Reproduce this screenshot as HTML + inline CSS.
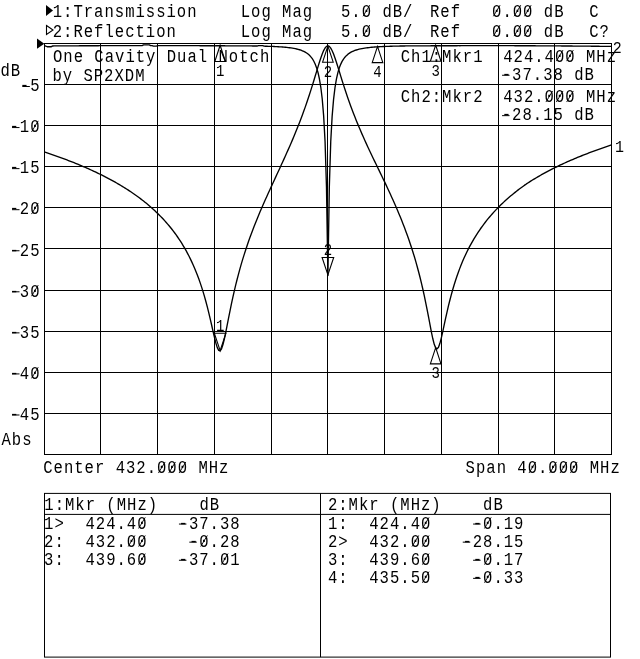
<!DOCTYPE html>
<html><head><meta charset="utf-8"><title>One Cavity Dual Notch</title>
<style>
html,body{margin:0;padding:0;background:#fff;}
svg{display:block;filter:grayscale(1);}
.t{font-family:"Liberation Mono",monospace;fill:#000;white-space:pre;}
.grid line,.grid rect{stroke:#000;stroke-width:1;}
.tr{fill:none;stroke:#000;stroke-width:1.35;stroke-linejoin:round;}
.ln{fill:none;stroke:#000;stroke-width:1.1;stroke-linejoin:miter;}
.fill{fill:#000;stroke:none;}
.sl{stroke:#000;stroke-width:0.9;}
.hy{stroke:#000;stroke-width:1.0;}
</style></head><body>
<svg width="640" height="659" viewBox="0 0 640 659">
<rect width="640" height="659" fill="#fff"/>
<g class="grid"><line x1="44.5" y1="43" x2="44.5" y2="455"/><line x1="100.5" y1="43" x2="100.5" y2="455"/><line x1="157.5" y1="43" x2="157.5" y2="455"/><line x1="214.5" y1="43" x2="214.5" y2="455"/><line x1="271.5" y1="43" x2="271.5" y2="455"/><line x1="327.5" y1="43" x2="327.5" y2="455"/><line x1="384.5" y1="43" x2="384.5" y2="455"/><line x1="441.5" y1="43" x2="441.5" y2="455"/><line x1="498.5" y1="43" x2="498.5" y2="455"/><line x1="554.5" y1="43" x2="554.5" y2="455"/><line x1="611.5" y1="43" x2="611.5" y2="455"/><line x1="44" y1="43.5" x2="612" y2="43.5"/><line x1="44" y1="84.5" x2="612" y2="84.5"/><line x1="44" y1="125.5" x2="612" y2="125.5"/><line x1="44" y1="166.5" x2="612" y2="166.5"/><line x1="44" y1="207.5" x2="612" y2="207.5"/><line x1="44" y1="248.5" x2="612" y2="248.5"/><line x1="44" y1="290.5" x2="612" y2="290.5"/><line x1="44" y1="331.5" x2="612" y2="331.5"/><line x1="44" y1="372.5" x2="612" y2="372.5"/><line x1="44" y1="413.5" x2="612" y2="413.5"/><line x1="44" y1="454.5" x2="612" y2="454.5"/></g>
<polyline class="tr" points="44.30,151.93 45.72,152.40 47.14,152.87 48.55,153.35 49.97,153.83 51.39,154.32 52.81,154.81 54.23,155.31 55.64,155.81 57.06,156.31 58.48,156.82 59.90,157.33 61.32,157.85 62.73,158.37 64.15,158.90 65.57,159.44 66.99,159.97 68.41,160.52 69.82,161.07 71.24,161.62 72.66,162.18 74.08,162.74 75.50,163.31 76.91,163.89 78.33,164.47 79.75,165.06 81.17,165.66 82.59,166.26 84.00,166.86 85.42,167.48 86.84,168.10 88.26,168.73 89.68,169.36 91.09,170.00 92.51,170.65 93.93,171.31 95.35,171.97 96.77,172.64 98.18,173.32 99.60,174.01 101.02,174.71 102.44,175.41 103.86,176.13 105.27,176.85 106.69,177.59 108.11,178.33 109.53,179.08 110.95,179.84 112.36,180.61 113.78,181.40 115.20,182.19 116.62,183.00 118.04,183.81 119.45,184.64 120.87,185.48 122.29,186.34 123.71,187.21 125.13,188.09 126.54,188.98 127.96,189.89 129.38,190.81 130.80,191.76 132.22,192.72 133.63,193.70 135.05,194.70 136.47,195.71 137.89,196.75 139.31,197.80 140.72,198.87 142.14,199.96 143.56,201.07 144.98,202.20 146.40,203.35 147.81,204.53 149.23,205.73 150.65,206.96 152.07,208.21 153.49,209.49 154.90,210.80 156.32,212.14 157.74,213.51 159.16,214.91 160.58,216.35 161.99,217.82 163.41,219.33 164.83,220.88 166.25,222.47 167.67,224.10 169.08,225.78 170.50,227.51 171.92,229.29 173.34,231.13 174.76,233.02 176.17,234.97 177.59,236.99 179.01,239.07 180.43,241.23 181.85,243.47 183.26,245.79 184.68,248.20 186.10,250.70 187.52,253.31 188.94,256.04 190.35,258.88 191.77,261.85 193.19,264.96 194.61,268.23 196.03,271.66 197.44,275.27 198.86,279.09 200.28,283.11 201.70,287.37 203.12,291.89 204.53,296.68 205.95,301.76 207.37,307.15 208.79,312.84 210.21,318.81 211.62,325.01 213.04,331.31 214.46,337.46 215.88,343.08 217.30,347.61 218.71,350.39 220.13,350.87 221.55,348.82 222.97,344.58 224.39,338.77 225.80,332.03 227.22,324.87 228.64,317.64 230.06,310.55 231.48,303.69 232.89,297.13 234.31,290.87 235.73,284.90 237.15,279.22 238.57,273.80 239.98,268.62 241.40,263.66 242.82,258.90 244.24,254.33 245.66,249.92 247.07,245.67 248.49,241.55 249.91,237.56 251.33,233.69 252.75,229.92 254.16,226.24 255.58,222.65 257.00,219.14 258.42,215.69 259.84,212.31 261.25,208.99 262.67,205.72 264.09,202.50 265.51,199.31 266.93,196.16 268.34,193.05 269.76,189.95 271.18,186.88 272.60,183.78 274.02,180.70 275.43,177.63 276.85,174.55 278.27,171.48 279.69,168.41 281.11,165.33 282.52,162.23 283.94,159.12 285.36,155.99 286.78,152.83 288.20,149.65 289.61,146.42 291.03,143.16 292.45,139.86 293.87,136.50 295.29,133.09 296.70,129.61 298.12,126.07 299.54,122.45 300.96,118.75 302.38,114.97 303.79,111.09 305.21,107.11 306.63,103.02 308.05,98.83 309.47,94.53 310.88,90.11 312.30,85.59 313.72,80.98 315.14,76.30 316.56,71.59 317.97,66.90 319.39,62.32 320.81,57.97 322.23,54.00 323.65,50.60 325.06,47.98 326.48,46.33 327.90,45.78 329.32,46.38 330.74,48.08 332.15,50.71 333.57,54.09 334.99,58.01 336.41,62.27 337.83,66.75 339.24,71.32 340.66,75.90 342.08,80.44 343.50,84.90 344.92,89.27 346.33,93.54 347.75,97.69 349.17,101.73 350.59,105.66 352.01,109.49 353.42,113.22 354.84,116.85 356.26,120.40 357.68,123.87 359.10,127.27 360.51,130.59 361.93,133.86 363.35,137.07 364.77,140.23 366.19,143.35 367.60,146.43 369.02,149.47 370.44,152.48 371.86,155.47 373.28,158.43 374.69,161.38 376.11,164.32 377.53,167.25 378.95,170.17 380.37,173.09 381.78,176.02 383.20,178.96 384.62,181.90 386.04,184.91 387.46,187.93 388.87,190.98 390.29,194.06 391.71,197.17 393.13,200.32 394.55,203.51 395.96,206.76 397.38,210.05 398.80,213.42 400.22,216.84 401.64,220.35 403.05,223.93 404.47,227.61 405.89,231.39 407.31,235.28 408.73,239.29 410.14,243.44 411.56,247.73 412.98,252.19 414.40,256.82 415.82,261.65 417.23,266.70 418.65,271.99 420.07,277.54 421.49,283.37 422.91,289.51 424.32,295.97 425.74,302.77 427.16,309.87 428.58,317.22 430.00,324.70 431.41,332.02 432.83,338.78 434.25,344.32 435.67,347.91 437.09,348.90 438.50,347.23 439.92,343.30 441.34,337.84 442.76,331.56 444.18,324.96 445.59,318.39 447.01,312.03 448.43,305.97 449.85,300.23 451.27,294.83 452.68,289.74 454.10,284.96 455.52,280.45 456.94,276.20 458.36,272.19 459.77,268.38 461.19,264.78 462.61,261.35 464.03,258.09 465.45,254.98 466.86,252.00 468.28,249.16 469.70,246.43 471.12,243.82 472.54,241.30 473.95,238.88 475.37,236.55 476.79,234.30 478.21,232.12 479.63,230.02 481.04,227.99 482.46,226.02 483.88,224.11 485.30,222.25 486.72,220.45 488.13,218.70 489.55,217.00 490.97,215.34 492.39,213.73 493.81,212.15 495.22,210.62 496.64,209.12 498.06,207.66 499.48,206.23 500.90,204.83 502.31,203.47 503.73,202.13 505.15,200.82 506.57,199.54 507.99,198.29 509.40,197.06 510.82,195.85 512.24,194.67 513.66,193.51 515.08,192.37 516.49,191.25 517.91,190.15 519.33,189.06 520.75,188.00 522.17,186.96 523.58,185.93 525.00,184.92 526.42,183.93 527.84,182.99 529.26,182.08 530.67,181.18 532.09,180.29 533.51,179.42 534.93,178.56 536.35,177.71 537.76,176.88 539.18,176.06 540.60,175.25 542.02,174.45 543.44,173.66 544.85,172.88 546.27,172.12 547.69,171.36 549.11,170.62 550.53,169.88 551.94,169.15 553.36,168.44 554.78,167.73 556.20,167.03 557.62,166.34 559.03,165.66 560.45,164.98 561.87,164.32 563.29,163.66 564.71,163.01 566.12,162.37 567.54,161.73 568.96,161.10 570.38,160.48 571.80,159.87 573.21,159.26 574.63,158.66 576.05,158.06 577.47,157.48 578.89,156.89 580.30,156.32 581.72,155.75 583.14,155.18 584.56,154.62 585.98,154.07 587.39,153.52 588.81,152.98 590.23,152.44 591.65,151.91 593.07,151.39 594.48,150.86 595.90,150.35 597.32,149.83 598.74,149.33 600.16,148.82 601.57,148.33 602.99,147.83 604.41,147.34 605.83,146.86 607.25,146.38 608.66,145.90 610.08,145.43 611.50,144.96"/>
<polyline class="tr" points="44.30,46.02 45.72,46.01 47.14,46.74 48.55,46.73 49.97,46.72 51.39,46.71 52.81,45.96 54.23,45.95 55.64,45.94 57.06,45.93 58.48,45.92 59.90,45.91 61.32,45.90 62.73,45.89 64.15,45.88 65.57,45.87 66.99,45.87 68.41,45.86 69.82,45.85 71.24,45.84 72.66,45.83 74.08,45.82 75.50,45.82 76.91,45.81 78.33,45.80 79.75,45.79 81.17,45.78 82.59,45.78 84.00,45.77 85.42,45.76 86.84,45.76 88.26,45.75 89.68,45.74 91.09,45.74 92.51,45.73 93.93,45.72 95.35,45.72 96.77,45.71 98.18,45.71 99.60,45.70 101.02,45.69 102.44,45.69 103.86,45.68 105.27,45.68 106.69,45.67 108.11,45.67 109.53,45.66 110.95,45.66 112.36,45.65 113.78,45.65 115.20,45.65 116.62,45.64 118.04,45.64 119.45,45.64 120.87,45.63 122.29,45.63 123.71,45.62 125.13,45.62 126.54,45.62 127.96,45.62 129.38,45.61 130.80,45.61 132.22,45.61 133.63,45.61 135.05,45.60 136.47,45.60 137.89,45.60 139.31,45.60 140.72,45.60 142.14,45.60 143.56,44.86 144.98,44.85 146.40,44.85 147.81,44.85 149.23,44.85 150.65,45.59 152.07,45.59 153.49,46.08 154.90,46.08 156.32,46.08 157.74,45.59 159.16,45.59 160.58,45.59 161.99,45.60 163.41,45.60 164.83,45.60 166.25,45.60 167.67,45.60 169.08,45.60 170.50,45.61 171.92,45.61 173.34,45.61 174.76,45.61 176.17,45.62 177.59,45.62 179.01,45.62 180.43,45.63 181.85,45.63 183.26,45.64 184.68,45.64 186.10,45.65 187.52,45.65 188.94,45.66 190.35,45.66 191.77,45.67 193.19,45.67 194.61,45.68 196.03,45.69 197.44,45.69 198.86,45.70 200.28,45.71 201.70,45.71 203.12,45.72 204.53,45.73 205.95,45.74 207.37,45.75 208.79,45.76 210.21,45.77 211.62,45.78 213.04,45.79 214.46,45.80 215.88,45.79 217.30,45.79 218.71,45.79 220.13,45.79 221.55,45.79 222.97,45.79 224.39,45.79 225.80,45.80 227.22,45.80 228.64,45.80 230.06,45.80 231.48,45.81 232.89,45.81 234.31,45.82 235.73,45.82 237.15,45.83 238.57,45.84 239.98,45.85 241.40,45.86 242.82,45.87 244.24,45.88 245.66,45.89 247.07,45.90 248.49,45.92 249.91,45.93 251.33,45.95 252.75,45.97 254.16,45.99 255.58,46.01 257.00,46.03 258.42,45.56 259.84,45.59 261.25,45.62 262.67,45.65 264.09,46.18 265.51,46.22 266.93,46.26 268.34,46.30 269.76,46.35 271.18,46.40 272.60,46.45 274.02,46.52 275.43,46.58 276.85,46.66 278.27,46.74 279.69,46.82 281.11,46.92 282.52,47.02 283.94,47.14 285.36,47.27 286.78,47.41 288.20,47.57 289.61,47.74 291.03,47.94 292.45,48.15 293.87,48.40 295.29,48.68 296.70,48.99 298.12,49.35 299.54,49.75 300.96,50.22 302.38,50.77 303.79,51.40 305.21,52.14 306.63,53.02 308.05,54.06 309.47,55.31 310.88,56.84 312.30,58.70 313.72,61.02 315.14,63.93 316.56,67.64 317.97,72.44 319.39,78.77 320.81,87.28 322.23,99.02 323.65,115.84 325.06,141.58 326.48,187.01 327.90,275.48 329.32,187.11 330.74,141.78 332.15,116.12 333.57,99.36 334.99,87.66 336.41,79.17 337.83,72.85 339.24,68.05 340.66,64.33 342.08,61.41 343.50,59.08 344.92,57.19 346.33,55.66 347.75,54.39 349.17,53.33 350.59,52.43 352.01,51.68 353.42,51.03 354.84,50.47 356.26,49.99 357.68,49.57 359.10,49.20 360.51,48.88 361.93,48.59 363.35,48.34 364.77,48.11 366.19,47.90 367.60,47.72 369.02,47.56 370.44,47.41 371.86,47.27 373.28,47.15 374.69,47.04 376.11,46.94 377.53,46.84 378.95,46.76 380.37,46.68 381.78,46.60 383.20,46.54 384.62,46.48 386.04,46.42 387.46,46.37 388.87,46.32 390.29,46.27 391.71,46.23 393.13,46.19 394.55,46.16 395.96,46.12 397.38,46.09 398.80,46.06 400.22,46.04 401.64,46.01 403.05,45.99 404.47,45.97 405.89,45.95 407.31,45.93 408.73,45.92 410.14,45.90 411.56,45.89 412.98,45.88 414.40,45.86 415.82,45.85 417.23,45.84 418.65,45.84 420.07,45.83 421.49,45.82 422.91,45.82 424.32,45.81 425.74,45.81 427.16,45.80 428.58,45.80 430.00,45.80 431.41,45.79 432.83,45.79 434.25,45.79 435.67,45.79 437.09,45.79 438.50,45.79 439.92,45.79 441.34,45.80 442.76,45.79 444.18,45.78 445.59,45.77 447.01,45.76 448.43,45.75 449.85,45.74 451.27,45.73 452.68,45.73 454.10,45.72 455.52,45.71 456.94,45.71 458.36,45.70 459.77,45.70 461.19,45.69 462.61,45.69 464.03,45.68 465.45,45.68 466.86,45.67 468.28,45.67 469.70,45.67 471.12,45.66 472.54,45.66 473.95,45.66 475.37,45.65 476.79,45.65 478.21,45.65 479.63,45.65 481.04,45.65 482.46,45.65 483.88,45.65 485.30,45.65 486.72,45.65 488.13,45.65 489.55,45.65 490.97,45.65 492.39,45.65 493.81,45.65 495.22,45.65 496.64,45.65 498.06,45.66 499.48,45.66 500.90,45.66 502.31,45.66 503.73,45.67 505.15,45.67 506.57,45.67 507.99,45.68 509.40,45.68 510.82,45.69 512.24,45.69 513.66,45.70 515.08,45.70 516.49,45.71 517.91,45.71 519.33,45.72 520.75,45.72 522.17,45.73 523.58,45.74 525.00,45.74 526.42,45.75 527.84,45.76 529.26,45.76 530.67,45.77 532.09,45.78 533.51,45.78 534.93,45.79 536.35,45.80 537.76,45.80 539.18,45.81 540.60,45.82 542.02,45.83 543.44,45.84 544.85,45.84 546.27,45.85 547.69,45.86 549.11,45.87 550.53,45.88 551.94,45.89 553.36,45.90 554.78,45.91 556.20,45.92 557.62,45.93 559.03,45.94 560.45,45.95 561.87,45.96 563.29,45.97 564.71,45.98 566.12,45.99 567.54,46.00 568.96,46.01 570.38,46.02 571.80,46.04 573.21,46.05 574.63,46.06 576.05,46.07 577.47,46.08 578.89,46.10 580.30,46.11 581.72,46.12 583.14,46.14 584.56,46.15 585.98,46.16 587.39,46.18 588.81,46.19 590.23,46.20 591.65,46.22 593.07,46.23 594.48,46.24 595.90,46.26 597.32,46.27 598.74,46.29 600.16,46.30 601.57,46.32 602.99,46.33 604.41,46.35 605.83,46.36 607.25,46.38 608.66,46.40 610.08,46.41 611.50,46.43"/>
<text class="t" transform="translate(52.72 16.60) scale(1 1.148)" font-size="15.6" letter-spacing="0.990" xml:space="preserve">1:Transmission</text>
<text class="t" transform="translate(240.71 16.60) scale(1 1.148)" font-size="15.6" letter-spacing="0.990" xml:space="preserve">Log Mag</text>
<line class="sl" x1="363.06" y1="16.24" x2="369.77" y2="5.14"/>
<text class="t" transform="translate(341.03 16.60) scale(1 1.148)" font-size="15.6" letter-spacing="0.990" xml:space="preserve">5.0 dB/</text>
<text class="t" transform="translate(430.02 16.60) scale(1 1.148)" font-size="15.6" letter-spacing="0.990" xml:space="preserve">Ref</text>
<line class="sl" x1="493.39" y1="16.24" x2="500.10" y2="5.14"/>
<line class="sl" x1="514.09" y1="16.24" x2="520.80" y2="5.14"/>
<line class="sl" x1="524.44" y1="16.24" x2="531.15" y2="5.14"/>
<text class="t" transform="translate(492.06 16.60) scale(1 1.148)" font-size="15.6" letter-spacing="0.990" xml:space="preserve">0.00 dB</text>
<text class="t" transform="translate(589.14 16.60) scale(1 1.148)" font-size="15.6" letter-spacing="0.990" xml:space="preserve">C</text>
<text class="t" transform="translate(52.72 36.50) scale(1 1.148)" font-size="15.6" letter-spacing="0.990" xml:space="preserve">2:Reflection</text>
<text class="t" transform="translate(240.71 36.50) scale(1 1.148)" font-size="15.6" letter-spacing="0.990" xml:space="preserve">Log Mag</text>
<line class="sl" x1="363.06" y1="36.14" x2="369.77" y2="25.04"/>
<text class="t" transform="translate(341.03 36.50) scale(1 1.148)" font-size="15.6" letter-spacing="0.990" xml:space="preserve">5.0 dB/</text>
<text class="t" transform="translate(430.02 36.50) scale(1 1.148)" font-size="15.6" letter-spacing="0.990" xml:space="preserve">Ref</text>
<line class="sl" x1="493.39" y1="36.14" x2="500.10" y2="25.04"/>
<line class="sl" x1="514.09" y1="36.14" x2="520.80" y2="25.04"/>
<line class="sl" x1="524.44" y1="36.14" x2="531.15" y2="25.04"/>
<text class="t" transform="translate(492.06 36.50) scale(1 1.148)" font-size="15.6" letter-spacing="0.990" xml:space="preserve">0.00 dB</text>
<text class="t" transform="translate(589.14 36.50) scale(1 1.148)" font-size="15.6" letter-spacing="0.990" xml:space="preserve">C?</text>
<path class="fill" d="M46 5 L53 10.5 L46 16 Z"/>
<path class="ln" d="M46.5 25.5 L53 30 L46.5 34.5 Z"/>
<path class="fill" d="M37 38.6 L44.3 43.7 L37 48.8 Z"/>
<line class="hy" x1="22.35" y1="86.51" x2="29.85" y2="86.51"/>
<text class="t" transform="translate(19.85 91.26) scale(1 1.148)" font-size="15.6" letter-spacing="0.990" xml:space="preserve">-5</text>
<line class="hy" x1="12.00" y1="127.57" x2="19.50" y2="127.57"/>
<line class="sl" x1="31.53" y1="131.96" x2="38.23" y2="120.86"/>
<text class="t" transform="translate(9.50 132.32) scale(1 1.148)" font-size="15.6" letter-spacing="0.990" xml:space="preserve">-10</text>
<line class="hy" x1="12.00" y1="168.63" x2="19.50" y2="168.63"/>
<text class="t" transform="translate(9.50 173.38) scale(1 1.148)" font-size="15.6" letter-spacing="0.990" xml:space="preserve">-15</text>
<line class="hy" x1="12.00" y1="209.69" x2="19.50" y2="209.69"/>
<line class="sl" x1="31.53" y1="214.08" x2="38.23" y2="202.98"/>
<text class="t" transform="translate(9.50 214.44) scale(1 1.148)" font-size="15.6" letter-spacing="0.990" xml:space="preserve">-20</text>
<line class="hy" x1="12.00" y1="250.75" x2="19.50" y2="250.75"/>
<text class="t" transform="translate(9.50 255.50) scale(1 1.148)" font-size="15.6" letter-spacing="0.990" xml:space="preserve">-25</text>
<line class="hy" x1="12.00" y1="291.81" x2="19.50" y2="291.81"/>
<line class="sl" x1="31.53" y1="296.20" x2="38.23" y2="285.10"/>
<text class="t" transform="translate(9.50 296.56) scale(1 1.148)" font-size="15.6" letter-spacing="0.990" xml:space="preserve">-30</text>
<line class="hy" x1="12.00" y1="332.87" x2="19.50" y2="332.87"/>
<text class="t" transform="translate(9.50 337.62) scale(1 1.148)" font-size="15.6" letter-spacing="0.990" xml:space="preserve">-35</text>
<line class="hy" x1="12.00" y1="373.93" x2="19.50" y2="373.93"/>
<line class="sl" x1="31.53" y1="378.32" x2="38.23" y2="367.22"/>
<text class="t" transform="translate(9.50 378.68) scale(1 1.148)" font-size="15.6" letter-spacing="0.990" xml:space="preserve">-40</text>
<line class="hy" x1="12.00" y1="414.99" x2="19.50" y2="414.99"/>
<text class="t" transform="translate(9.50 419.74) scale(1 1.148)" font-size="15.6" letter-spacing="0.990" xml:space="preserve">-45</text>
<text class="t" transform="translate(0.45 76.00) scale(1 1.148)" font-size="15.6" letter-spacing="0.990" xml:space="preserve">dB</text>
<text class="t" transform="translate(1.50 445.30) scale(1 1.148)" font-size="15.6" letter-spacing="0.990" xml:space="preserve">Abs</text>
<line class="sl" x1="158.42" y1="473.04" x2="165.13" y2="461.94"/>
<line class="sl" x1="168.77" y1="473.04" x2="175.48" y2="461.94"/>
<line class="sl" x1="179.12" y1="473.04" x2="185.83" y2="461.94"/>
<text class="t" transform="translate(43.24 473.40) scale(1 1.148)" font-size="15.6" letter-spacing="0.990" xml:space="preserve">Center 432.000 MHz</text>
<line class="sl" x1="529.03" y1="473.04" x2="535.74" y2="461.94"/>
<line class="sl" x1="549.73" y1="473.04" x2="556.44" y2="461.94"/>
<line class="sl" x1="560.08" y1="473.04" x2="566.79" y2="461.94"/>
<line class="sl" x1="570.43" y1="473.04" x2="577.14" y2="461.94"/>
<text class="t" transform="translate(465.61 473.40) scale(1 1.148)" font-size="15.6" letter-spacing="0.990" xml:space="preserve">Span 40.000 MHz</text>
<text class="t" transform="translate(52.99 62.00) scale(1 1.148)" font-size="15.6" letter-spacing="0.990" xml:space="preserve">One Cavity Dual Notch</text>
<text class="t" transform="translate(52.39 80.50) scale(1 1.148)" font-size="15.6" letter-spacing="0.990" xml:space="preserve">by SP2XDM</text>
<text class="t" transform="translate(400.74 61.50) scale(1 1.148)" font-size="15.6" letter-spacing="0.990" xml:space="preserve">Ch1:Mkr1</text>
<line class="sl" x1="556.30" y1="61.14" x2="563.00" y2="50.04"/>
<line class="sl" x1="566.65" y1="61.14" x2="573.35" y2="50.04"/>
<text class="t" transform="translate(503.22 61.50) scale(1 1.148)" font-size="15.6" letter-spacing="0.990" xml:space="preserve">424.400 MHz</text>
<line class="hy" x1="502.06" y1="75.25" x2="509.56" y2="75.25"/>
<text class="t" transform="translate(501.76 80.00) scale(1 1.148)" font-size="15.6" letter-spacing="0.990" xml:space="preserve">-37.38 dB</text>
<text class="t" transform="translate(400.74 102.40) scale(1 1.148)" font-size="15.6" letter-spacing="0.990" xml:space="preserve">Ch2:Mkr2</text>
<line class="sl" x1="545.95" y1="102.04" x2="552.65" y2="90.94"/>
<line class="sl" x1="556.30" y1="102.04" x2="563.00" y2="90.94"/>
<line class="sl" x1="566.65" y1="102.04" x2="573.35" y2="90.94"/>
<text class="t" transform="translate(503.22 102.40) scale(1 1.148)" font-size="15.6" letter-spacing="0.990" xml:space="preserve">432.000 MHz</text>
<line class="hy" x1="502.06" y1="115.65" x2="509.56" y2="115.65"/>
<text class="t" transform="translate(501.76 120.40) scale(1 1.148)" font-size="15.6" letter-spacing="0.990" xml:space="preserve">-28.15 dB</text>
<text class="t" transform="translate(614.92 151.90) scale(1 1.1)" font-size="15.0">1</text>
<text class="t" transform="translate(612.75 53.20) scale(1 1.1)" font-size="15.0">2</text>
<path class="ln" d="M220.13 350.66 L214.33 333.26 L225.93 333.26 Z"/>
<text class="t" transform="translate(220.13 330.96) scale(1 1.2)" font-size="14.0" text-anchor="middle">1</text>
<path class="ln" d="M327.90 46.00 L322.60 62.20 L333.20 62.20 Z"/>
<text class="t" transform="translate(327.90 76.80) scale(1 1.2)" font-size="14.0" text-anchor="middle">2</text>
<path class="ln" d="M435.67 347.63 L430.37 363.83 L440.97 363.83 Z"/>
<text class="t" transform="translate(435.67 378.43) scale(1 1.2)" font-size="14.0" text-anchor="middle">3</text>
<path class="ln" d="M220.13 45.26 L214.83 61.46 L225.43 61.46 Z"/>
<text class="t" transform="translate(220.13 76.06) scale(1 1.2)" font-size="14.0" text-anchor="middle">1</text>
<path class="ln" d="M327.90 274.87 L322.10 257.47 L333.70 257.47 Z"/>
<text class="t" transform="translate(327.90 255.17) scale(1 1.2)" font-size="14.0" text-anchor="middle">2</text>
<path class="ln" d="M435.67 45.10 L430.37 61.30 L440.97 61.30 Z"/>
<text class="t" transform="translate(435.67 75.90) scale(1 1.2)" font-size="14.0" text-anchor="middle">3</text>
<path class="ln" d="M377.53 46.41 L372.23 62.61 L382.83 62.61 Z"/>
<text class="t" transform="translate(377.53 77.21) scale(1 1.2)" font-size="14.0" text-anchor="middle">4</text>
<g class="grid"><rect x="44.5" y="493.4" width="566" height="163.7" fill="none"/><line x1="320.5" y1="493.4" x2="320.5" y2="657.1"/><line x1="44.5" y1="514.4" x2="610.5" y2="514.4"/></g>
<text class="t" transform="translate(44.30 509.50) scale(1 1.148)" font-size="15.6" letter-spacing="0.990" xml:space="preserve">1:Mkr (MHz)    dB</text>
<text class="t" transform="translate(327.90 509.50) scale(1 1.148)" font-size="15.6" letter-spacing="0.990" xml:space="preserve">2:Mkr (MHz)    dB</text>
<line class="sl" x1="138.58" y1="528.44" x2="145.28" y2="517.34"/>
<line class="hy" x1="178.95" y1="524.05" x2="186.45" y2="524.05"/>
<text class="t" transform="translate(44.10 528.80) scale(1 1.148)" font-size="15.6" letter-spacing="0.990" xml:space="preserve">1&gt;  424.40   -37.38</text>
<line class="sl" x1="128.23" y1="546.54" x2="134.93" y2="535.44"/>
<line class="sl" x1="138.58" y1="546.54" x2="145.28" y2="535.44"/>
<line class="hy" x1="189.30" y1="542.15" x2="196.80" y2="542.15"/>
<line class="sl" x1="200.68" y1="546.54" x2="207.38" y2="535.44"/>
<text class="t" transform="translate(44.10 546.90) scale(1 1.148)" font-size="15.6" letter-spacing="0.990" xml:space="preserve">2:  432.00    -0.28</text>
<line class="sl" x1="138.58" y1="564.64" x2="145.28" y2="553.54"/>
<line class="hy" x1="178.95" y1="560.25" x2="186.45" y2="560.25"/>
<line class="sl" x1="221.38" y1="564.64" x2="228.08" y2="553.54"/>
<text class="t" transform="translate(44.10 565.00) scale(1 1.148)" font-size="15.6" letter-spacing="0.990" xml:space="preserve">3:  439.60   -37.01</text>
<line class="sl" x1="422.38" y1="528.44" x2="429.08" y2="517.34"/>
<line class="hy" x1="473.10" y1="524.05" x2="480.60" y2="524.05"/>
<line class="sl" x1="484.48" y1="528.44" x2="491.18" y2="517.34"/>
<text class="t" transform="translate(327.90 528.80) scale(1 1.148)" font-size="15.6" letter-spacing="0.990" xml:space="preserve">1:  424.40    -0.19</text>
<line class="sl" x1="412.03" y1="546.54" x2="418.73" y2="535.44"/>
<line class="sl" x1="422.38" y1="546.54" x2="429.08" y2="535.44"/>
<line class="hy" x1="462.75" y1="542.15" x2="470.25" y2="542.15"/>
<text class="t" transform="translate(327.90 546.90) scale(1 1.148)" font-size="15.6" letter-spacing="0.990" xml:space="preserve">2&gt;  432.00   -28.15</text>
<line class="sl" x1="422.38" y1="564.64" x2="429.08" y2="553.54"/>
<line class="hy" x1="473.10" y1="560.25" x2="480.60" y2="560.25"/>
<line class="sl" x1="484.48" y1="564.64" x2="491.18" y2="553.54"/>
<text class="t" transform="translate(327.90 565.00) scale(1 1.148)" font-size="15.6" letter-spacing="0.990" xml:space="preserve">3:  439.60    -0.17</text>
<line class="sl" x1="422.38" y1="582.74" x2="429.08" y2="571.64"/>
<line class="hy" x1="473.10" y1="578.35" x2="480.60" y2="578.35"/>
<line class="sl" x1="484.48" y1="582.74" x2="491.18" y2="571.64"/>
<text class="t" transform="translate(327.90 583.10) scale(1 1.148)" font-size="15.6" letter-spacing="0.990" xml:space="preserve">4:  435.50    -0.33</text>
</svg>
</body></html>
